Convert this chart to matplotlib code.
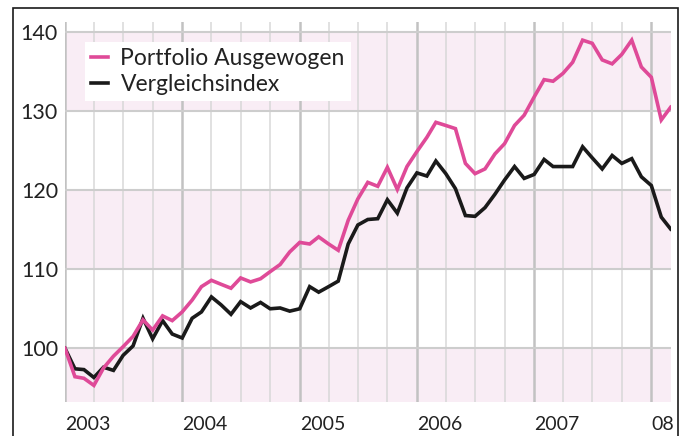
import pandas as pd
import matplotlib.pyplot as plt
from matplotlib.patches import Rectangle

# monthly index values, Jan 2003 = 100
months = pd.date_range("2003-01-01", periods=63, freq="MS")

portfolio = [100.0, 96.4, 96.2, 95.3, 97.5, 99.0, 100.2, 101.5, 103.6, 102.3,
             104.1, 103.5, 104.6, 106.1, 107.8, 108.6, 108.1, 107.6, 108.9, 108.4,
             108.8, 109.7, 110.6, 112.2, 113.4, 113.2, 114.1, 113.2, 112.4, 116.2,
             118.9, 121.0, 120.5, 122.9, 120.1, 123.0, 124.9, 126.7, 128.6, 128.2,
             127.8, 123.4, 122.1, 122.7, 124.6, 125.9, 128.2, 129.5, 131.8, 134.0,
             133.8, 134.8, 136.2, 139.0, 138.6, 136.5, 136.0, 137.2, 139.0, 135.6,
             134.3, 128.9, 130.5]

benchmark = [100.0, 97.4, 97.3, 96.3, 97.6, 97.2, 99.1, 100.3, 103.8, 101.2,
             103.5, 101.8, 101.3, 103.8, 104.6, 106.5, 105.5, 104.3, 105.9, 105.1,
             105.8, 105.0, 105.1, 104.7, 105.0, 107.8, 107.1, 107.8, 108.5, 113.2,
             115.6, 116.3, 116.4, 118.8, 117.1, 120.3, 122.2, 121.8, 123.7, 122.1,
             120.2, 116.8, 116.7, 117.8, 119.5, 121.3, 123.0, 121.5, 122.0, 123.9,
             123.0, 123.0, 123.0, 125.5, 124.1, 122.7, 124.4, 123.4, 124.0, 121.7,
             120.6, 116.6, 115.1]

year_ticks = ["2003", "2004", "2005", "2006", "2007", "2008"]
year_labels = ["2003", "2004", "2005", "2006", "2007", "08"]
y_ticks = [100, 110, 120, 130, 140]

PINK = "#df4a98"
BAND = "#f9edf5"
TEXT = "#222222"

plt.rcParams["font.family"] = ["Lato", "DejaVu Sans"]

fig = plt.figure(figsize=(6.84, 4.36), dpi=100)
ax = fig.add_axes([0.095, 0.078, 0.8854, 0.8716])

ymin, ymax = 93.2, 141.3
ax.set_ylim(ymin, ymax)
ax.set_xlim(months[0], months[-1])

# alternating background bands
ax.axhspan(ymin, 100, color=BAND, lw=0, zorder=0)
ax.axhspan(110, 120, color=BAND, lw=0, zorder=0)
ax.axhspan(130, 140, color=BAND, lw=0, zorder=0)

# grid: quarters light, years darker
for d in pd.date_range("2003-01-01", "2008-03-01", freq="QS"):
    year_line = d.month == 1
    ax.axvline(d, color="#c2c2c2" if year_line else "#d8d8d8",
               lw=1.8 if year_line else 1.1, zorder=1)
for v in y_ticks:
    ax.axhline(v, color="#cdcdcd", lw=1.5, zorder=1)

ax.plot(months, benchmark, color="#1a1a1a", lw=2.6, zorder=3,
        solid_joinstyle="miter", label="Vergleichsindex")
ax.plot(months, portfolio, color=PINK, lw=2.6, zorder=4,
        solid_joinstyle="miter", label="Portfolio Ausgewogen")

for s in ax.spines.values():
    s.set_visible(False)
ax.set_yticks(y_ticks)
ax.set_yticklabels([str(v) for v in y_ticks])
ax.tick_params(axis="y", length=0, pad=5, labelsize=15.5, labelcolor=TEXT)
ax.set_xticks([])

for y, lab in zip(year_ticks, year_labels):
    ax.text(pd.Timestamp(y + "-01-01"), -0.06, lab, ha="left", va="center",
            fontsize=14, color=TEXT,
            transform=ax.get_xaxis_transform(), clip_on=False)

handles, labels = ax.get_legend_handles_labels()
leg = ax.legend(handles[::-1], labels[::-1], loc="upper left",
                bbox_to_anchor=(0.033, 0.946), borderaxespad=0,
                frameon=True, fancybox=False, framealpha=1,
                facecolor="white", edgecolor="none",
                fontsize=16.5, handlelength=0.75, handletextpad=0.55,
                labelspacing=0.2, borderpad=0.25)
for t in leg.get_texts():
    t.set_color(TEXT)
leg.set_zorder(5)

# outer frame (open at the bottom)
fig.patches.append(Rectangle((13 / 684, -0.1), (678 - 13) / 684, 1.1 - 8 / 436,
                             transform=fig.transFigure, fill=False,
                             edgecolor="#1a1a1a", lw=1.2))

fig.savefig("out.png", dpi=100)
